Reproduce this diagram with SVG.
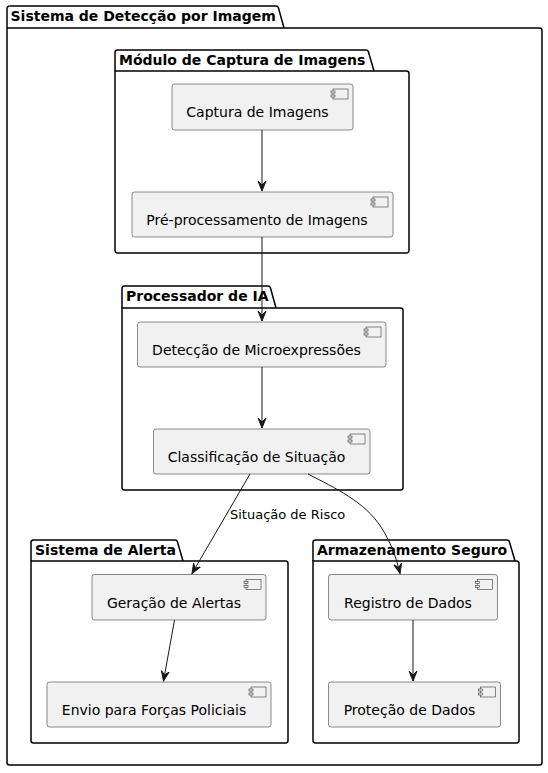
<svg xmlns="http://www.w3.org/2000/svg" width="548" height="773" viewBox="0 0 548 773">
<style>
.pkg{fill:none;stroke:#000000;stroke-width:1.5}
.ptitle{font-family:"DejaVu Sans",sans-serif;font-size:14px;font-weight:bold;fill:#000000}
.box{fill:#F1F1F1;stroke:#181818;stroke-width:0.5}
.icon{fill:#F1F1F1;stroke:#181818;stroke-width:0.5}
.ctext{font-family:"DejaVu Sans",sans-serif;font-size:14px;fill:#000000;text-anchor:middle}
.edge{fill:none;stroke:#181818;stroke-width:1}
.lbl{font-family:"DejaVu Sans",sans-serif;font-size:13px;fill:#000000}
</style>
<defs>
<marker id="arr" viewBox="0 0 12 10" refX="10" refY="5" markerWidth="12" markerHeight="10" markerUnits="userSpaceOnUse" orient="auto">
<path d="M0,1 L10,5 L0,9 L4,5 Z" fill="#181818" stroke="#181818" stroke-width="1"/>
</marker>
<g id="cicon">
<rect class="icon" x="0" y="0" width="15" height="10"/>
<rect class="icon" x="-2" y="2" width="4" height="2"/>
<rect class="icon" x="-2" y="6" width="4" height="2"/>
</g>
</defs>

<g id="pkg-sistema">
<path class="pkg" d="M9.5,6 L276,6 A2.5,2.5 0 0 1 278.4,7.8 L284,28"/>
<path class="pkg" d="M7,8.5 A2.5,2.5 0 0 1 9.5,6 M7,8.5 L7,762.5 A2.5,2.5 0 0 0 9.5,765 L539.5,765 A2.5,2.5 0 0 0 542,762.5 L542,30.5 A2.5,2.5 0 0 0 539.5,28 L7,28"/>
<text class="ptitle" x="10.5" y="20.5">Sistema de Detecção por Imagem</text>
</g>

<g id="pkg-modulo">
<path class="pkg" d="M115,71 L115,52.5 A2.5,2.5 0 0 1 117.5,50 L366,50 A2.5,2.5 0 0 1 368.4,51.8 L374,71"/>
<path class="pkg" d="M115,71 L115,250.5 A2.5,2.5 0 0 0 117.5,253 L406.5,253 A2.5,2.5 0 0 0 409,250.5 L409,73.5 A2.5,2.5 0 0 0 406.5,71 Z"/>
<text class="ptitle" x="119" y="64.5">Módulo de Captura de Imagens</text>
</g>

<g id="pkg-processador">
<path class="pkg" d="M122,308 L122,288.5 A2.5,2.5 0 0 1 124.5,286 L268,286 A2.5,2.5 0 0 1 270.4,287.8 L276,308"/>
<path class="pkg" d="M122,308 L122,487.5 A2.5,2.5 0 0 0 124.5,490 L400.5,490 A2.5,2.5 0 0 0 403,487.5 L403,310.5 A2.5,2.5 0 0 0 400.5,308 Z"/>
<text class="ptitle" x="126" y="300.5">Processador de IA</text>
</g>

<g id="pkg-alerta">
<path class="pkg" d="M31,561 L31,542.5 A2.5,2.5 0 0 1 33.5,540 L175,540 A2.5,2.5 0 0 1 177.4,541.8 L183,561"/>
<path class="pkg" d="M31,561 L31,740.5 A2.5,2.5 0 0 0 33.5,743 L285.5,743 A2.5,2.5 0 0 0 288,740.5 L288,563.5 A2.5,2.5 0 0 0 285.5,561 Z"/>
<text class="ptitle" x="35" y="554.5">Sistema de Alerta</text>
</g>

<g id="pkg-armazenamento">
<path class="pkg" d="M313,561 L313,542.5 A2.5,2.5 0 0 1 315.5,540 L507,540 A2.5,2.5 0 0 1 509.4,541.8 L515,561"/>
<path class="pkg" d="M313,561 L313,740.5 A2.5,2.5 0 0 0 315.5,743 L516.5,743 A2.5,2.5 0 0 0 519,740.5 L519,563.5 A2.5,2.5 0 0 0 516.5,561 Z"/>
<text class="ptitle" x="317" y="554.5">Armazenamento Seguro</text>
</g>

<g id="captura">
<rect class="box" x="172" y="84" width="181" height="46" rx="2.5"/>
<use href="#cicon" x="333" y="89"/>
<text class="ctext" x="257.5" y="117">Captura de Imagens</text>
</g>

<g id="preproc">
<rect class="box" x="132" y="192" width="261" height="45" rx="2.5"/>
<use href="#cicon" x="373" y="197"/>
<text class="ctext" x="257" y="225">Pré-processamento de Imagens</text>
</g>

<g id="deteccao">
<rect class="box" x="137.5" y="322" width="248.5" height="45" rx="2.5"/>
<use href="#cicon" x="366" y="327"/>
<text class="ctext" x="256.5" y="355">Detecção de Microexpressões</text>
</g>

<g id="classificacao">
<rect class="box" x="153.5" y="429" width="216.5" height="45" rx="2.5"/>
<use href="#cicon" x="350" y="434"/>
<text class="ctext" x="256.5" y="462">Classificação de Situação</text>
</g>

<g id="geracao">
<rect class="box" x="92" y="574.5" width="174" height="45.5" rx="2.5"/>
<use href="#cicon" x="246" y="579.5"/>
<text class="ctext" x="174" y="607.5">Geração de Alertas</text>
</g>

<g id="envio">
<rect class="box" x="47" y="682" width="224" height="45" rx="2.5"/>
<use href="#cicon" x="251" y="687"/>
<text class="ctext" x="154" y="715">Envio para Forças Policiais</text>
</g>

<g id="registro">
<rect class="box" x="328.5" y="574.5" width="169" height="45.5" rx="2.5"/>
<use href="#cicon" x="477.5" y="579.5"/>
<text class="ctext" x="408" y="607.5">Registro de Dados</text>
</g>

<g id="protecao">
<rect class="box" x="328.5" y="682" width="172" height="45" rx="2.5"/>
<use href="#cicon" x="480.5" y="687"/>
<text class="ctext" x="409.5" y="715">Proteção de Dados</text>
</g>

<g id="connectors">
<path class="edge" d="M262,130 L262,191" marker-end="url(#arr)"/>
<path class="edge" d="M262,237 L262,321" marker-end="url(#arr)"/>
<path class="edge" d="M262,367 L262,428" marker-end="url(#arr)"/>
<path class="edge" d="M250,474 L192,573.5" marker-end="url(#arr)"/>
<text class="lbl" x="230" y="518.5">Situação de Risco</text>
<path class="edge" d="M308,474 C335,488 365,502 381,527 C390,541 396,556 400,573.5" marker-end="url(#arr)"/>
<path class="edge" d="M174.5,620 L163.5,681" marker-end="url(#arr)"/>
<path class="edge" d="M413,620 L413,681" marker-end="url(#arr)"/>
</g>
</svg>
